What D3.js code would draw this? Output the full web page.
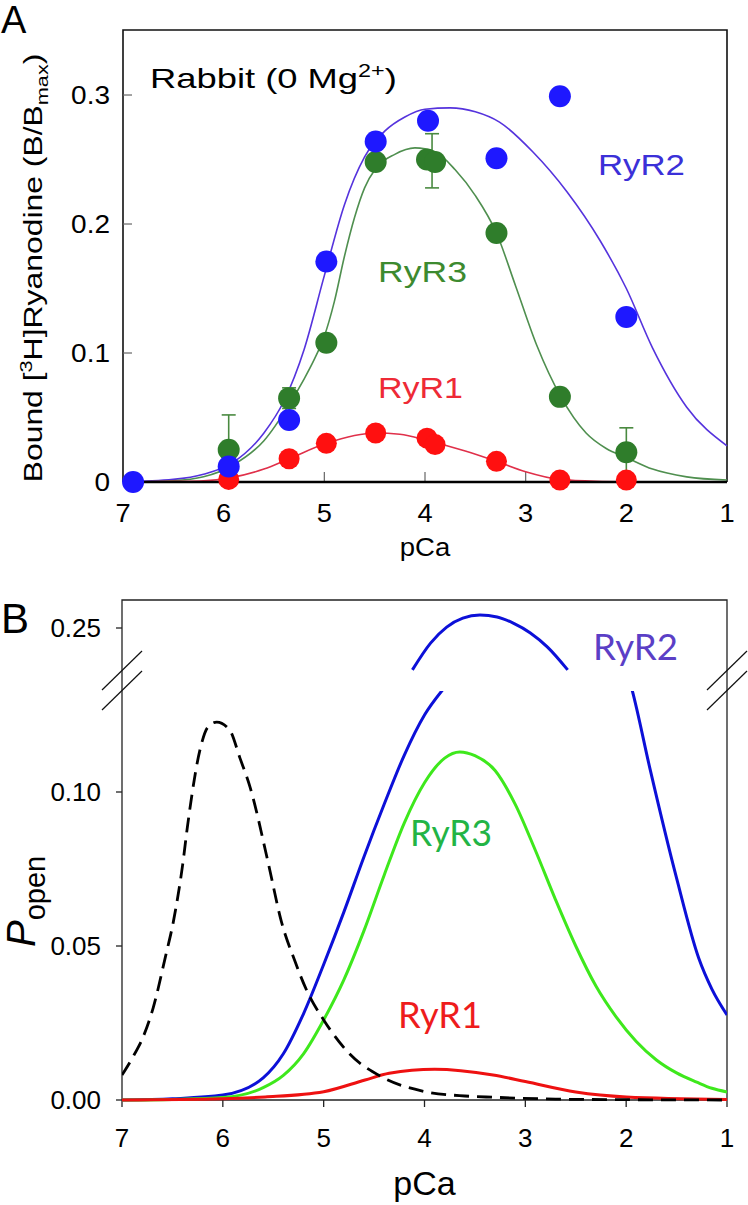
<!DOCTYPE html>
<html><head><meta charset="utf-8">
<script src="https://cdn.jsdelivr.net/npm/d3@7"></script>
<style>body{margin:0;background:#fff}svg{display:block}</style>
</head><body>
<svg id="c" width="748" height="1205"></svg>
<script>
// ---------------- DATA ----------------
const xTicks = [7, 6, 5, 4, 3, 2, 1];
const aYTicks = [0, 0.1, 0.2, 0.3];
const aYTickLabels = ["0", "0.1", "0.2", "0.3"];
const bYTicksLow = [0, 0.05, 0.10];
const bYTicksLowLabels = ["0.00", "0.05", "0.10"];
const bYTicksHigh = [0.25];
const bYTicksHighLabels = ["0.25"];

// Panel A measured points [pCa, B/Bmax]
const ryr2Points = [[6.9,0],[5.95,0.012],[5.35,0.048],[4.98,0.171],[4.49,0.264],[3.97,0.280],[3.29,0.251],[2.66,0.299],[2.0,0.128]];
const ryr3Points = [[5.95,0.025],[5.35,0.065],[4.98,0.108],[4.49,0.248],[3.98,0.250],[3.90,0.248],[3.29,0.193],[2.66,0.066],[2.0,0.023]];
const ryr3Errors = [[5.95,0.025,0.027],[5.35,0.065,0.008],[4.49,0.248,0.004],[3.93,0.249,0.021],[2.0,0.023,0.019]];
const ryr1Points = [[5.95,0.002],[5.35,0.018],[4.98,0.030],[4.49,0.038],[3.98,0.034],[3.90,0.029],[3.29,0.016],[2.66,0.0015],[2.0,0.0015]];

// Panel A fitted curves
const ryr2Fit = [[7.0,0],[6.5,0.002],[6.2,0.006],[5.91,0.015],[5.6,0.038],[5.4,0.063],[5.2,0.103],[5.0,0.160],[4.8,0.215],[4.6,0.252],[4.4,0.272],[4.2,0.283],[4.0,0.289],[3.75,0.290],[3.5,0.287],[3.26,0.279],[2.93,0.256],[2.59,0.225],[2.26,0.187],[2.0,0.150],[1.74,0.104],[1.4,0.058],[1.0,0.028]];
const ryr3Fit = [[7.0,0],[6.5,0.001],[6.2,0.004],[5.91,0.013],[5.6,0.032],[5.35,0.060],[5.2,0.080],[5.1,0.095],[5.0,0.113],[4.9,0.140],[4.8,0.175],[4.7,0.205],[4.6,0.228],[4.49,0.243],[4.3,0.254],[4.1,0.259],[3.9,0.256],[3.7,0.242],[3.5,0.222],[3.29,0.193],[3.1,0.152],[2.89,0.106],[2.65,0.066],[2.4,0.038],[2.2,0.026],[2.0,0.019],[1.74,0.010],[1.4,0.004],[1.0,0.0015]];
const ryr1Fit = [[7.0,0],[6.5,0.0005],[6.2,0.001],[5.95,0.003],[5.6,0.010],[5.35,0.018],[4.98,0.030],[4.49,0.038],[4.25,0.037],[3.97,0.032],[3.6,0.024],[3.29,0.016],[3.0,0.008],[2.66,0.002],[2.3,0.0005],[2.0,0.0002],[1.0,0]];

// Panel B model curves [pCa, Popen]
const controlCurve = [[7.0,0.0081],[6.9,0.0135],[6.79,0.0205],[6.69,0.030],[6.57,0.0464],[6.49,0.058],[6.40,0.076],[6.35,0.089],[6.22,0.1146],[6.15,0.121],[6.06,0.1227],[5.93,0.120],[5.83,0.111],[5.73,0.1016],[5.55,0.077],[5.42,0.058],[5.29,0.0455],[5.16,0.035],[5.0,0.026],[4.75,0.0152],[4.43,0.0076],[4.02,0.0029],[3.6,0.0013],[3.32,0.0009],[2.7,0.0003],[2.0,0.0001],[1.0,0.0]];
const ryr2Low = [[7.0,0],[6.5,0.0004],[6.0,0.0016],[5.6,0.0072],[5.4,0.015],[5.2,0.028],[5.0,0.044],[4.8,0.061],[4.6,0.079],[4.4,0.096],[4.2,0.112],[4.0,0.125],[3.8,0.134],[3.7,0.138]];
const ryr2High = [[4.12,0.2364],[3.94,0.2451],[3.78,0.2503],[3.62,0.2532],[3.45,0.2542],[3.28,0.2536],[3.12,0.2516],[2.95,0.2484],[2.78,0.2438],[2.58,0.2364]];
const ryr2Right = [[2.1,0.150],[1.94,0.133],[1.76,0.107],[1.5,0.072],[1.28,0.046],[1.15,0.036],[1.0,0.0276]];
const ryr3Curve = [[7.0,0],[6.5,0.0002],[6.0,0.0008],[5.6,0.004],[5.4,0.008],[5.2,0.015],[5.0,0.026],[4.8,0.039],[4.6,0.055],[4.4,0.073],[4.2,0.090],[4.0,0.103],[3.8,0.111],[3.65,0.113],[3.5,0.1118],[3.3,0.107],[3.1,0.096],[2.9,0.081],[2.7,0.065],[2.5,0.050],[2.3,0.037],[2.1,0.027],[1.9,0.019],[1.7,0.013],[1.5,0.0088],[1.3,0.0058],[1.15,0.0038],[1.0,0.0026]];
const ryr1Curve = [[7.0,0],[6.0,0.0004],[5.58,0.001],[5.0,0.0027],[4.59,0.0065],[4.35,0.0087],[3.9,0.0100],[3.32,0.0081],[3.0,0.006],[2.5,0.0026],[2.0,0.001],[1.0,0.0002]];

// ---------------- HELPERS ----------------
const svg = d3.select("#c");
const SANS = "'Liberation Sans', Arial, Helvetica, sans-serif";
const CAL = "Lato, 'Open Sans', sans-serif";

function addText(parent, o) {
  const g = parent.append("g");
  const t = g.append("text")
    .attr("font-family", o.family || SANS)
    .attr("font-size", o.size)
    .attr("fill", o.fill || "#000")
    .attr("text-anchor", o.anchor || "start");
  if (o.italic) t.attr("font-style", "italic");
  (o.parts || [{ t: o.text }]).forEach(p => {
    const ts = t.append("tspan").text(p.t);
    if (p.size) ts.attr("font-size", p.size);
    if (p.dy) ts.attr("dy", p.dy);
    if (p.italic) ts.attr("font-style", "italic");
  });
  let sx = o.sx || 1;
  if (o.width) sx = o.width / t.node().getComputedTextLength();
  g.attr("transform", `translate(${o.x},${o.y}) rotate(${o.rotate || 0}) scale(${sx},1)`);
  return g;
}

// ---------------- PANEL A ----------------
const A = { left: 123, right: 727, top: 30, bottom: 482 };
const xA = d3.scaleLinear().domain([7, 1]).range([A.left, A.right]);
const yA = d3.scaleLinear().domain([0, 0.3504]).range([A.bottom, A.top]);
const gA = svg.append("g");

const lineA = d3.line().x(d => xA(d[0])).y(d => yA(d[1])).curve(d3.curveMonotoneX);

gA.append("path").attr("d", `M${A.left},${A.bottom}V${A.top}H${A.right}V${A.bottom}`)
  .attr("fill", "none").attr("stroke", "#111").attr("stroke-width", 1.6);

gA.append("g").selectAll("line").data(aYTicks.slice(1)).join("line")
  .attr("x1", A.left).attr("x2", A.left + 9).attr("y1", d => yA(d)).attr("y2", d => yA(d))
  .attr("stroke", "#666").attr("stroke-width", 1.2);
gA.append("g").selectAll("line").data(xTicks.slice(1, -1)).join("line")
  .attr("x1", d => xA(d)).attr("x2", d => xA(d)).attr("y1", A.bottom).attr("y2", A.bottom - 10)
  .attr("stroke", "#666").attr("stroke-width", 1.2);

gA.append("path").datum(ryr2Fit).attr("d", lineA).attr("fill", "none").attr("stroke", "#5533dd").attr("stroke-width", 1.6);
gA.append("path").datum(ryr3Fit).attr("d", lineA).attr("fill", "none").attr("stroke", "#4f8f4f").attr("stroke-width", 1.6);
gA.append("path").datum(ryr1Fit).attr("d", lineA).attr("fill", "none").attr("stroke", "#e0304a").attr("stroke-width", 1.6);

gA.append("line").attr("x1", A.left).attr("x2", A.right).attr("y1", A.bottom).attr("y2", A.bottom)
  .attr("stroke", "#000").attr("stroke-width", 2.6);

const eb = gA.append("g").attr("stroke", "#4a8a40").attr("stroke-width", 1.6);
ryr3Errors.forEach(([p, v, e]) => {
  const x = xA(p);
  eb.append("line").attr("x1", x).attr("x2", x).attr("y1", yA(v - e)).attr("y2", yA(v + e));
  eb.append("line").attr("x1", x - 7).attr("x2", x + 7).attr("y1", yA(v + e)).attr("y2", yA(v + e));
  eb.append("line").attr("x1", x - 7).attr("x2", x + 7).attr("y1", yA(v - e)).attr("y2", yA(v - e));
});

const R = 11;
gA.append("g").selectAll("circle").data(ryr3Points).join("circle")
  .attr("cx", d => xA(d[0])).attr("cy", d => yA(d[1])).attr("r", R).attr("fill", "#2f7d2b");
gA.append("g").selectAll("circle").data(ryr1Points).join("circle")
  .attr("cx", d => xA(d[0])).attr("cy", d => yA(d[1])).attr("r", R - 0.5).attr("fill", "#ff1010");
gA.append("g").selectAll("circle").data(ryr2Points).join("circle")
  .attr("cx", d => xA(d[0])).attr("cy", d => yA(d[1])).attr("r", R).attr("fill", "#1e18ff");

aYTicks.forEach((v, i) => addText(gA, { x: 110, y: yA(v) + 9, text: aYTickLabels[i], size: 25, anchor: "end", sx: 1.12 }));
xTicks.forEach(v => addText(gA, { x: xA(v), y: 522, text: String(v), size: 26, anchor: "middle", sx: 1.05 }));
addText(gA, { x: xA(4), y: 556, text: "pCa", size: 25, anchor: "middle", sx: 1.1 });

addText(gA, { x: 42, y: 268, rotate: -90, size: 25, anchor: "middle", width: 429,
  parts: [{ t: "Bound [" }, { t: "3", size: 17, dy: -10 }, { t: "H]Ryanodine (B/B", dy: 10 }, { t: "max", size: 17, dy: 6 }, { t: ")", dy: -6 }] });

addText(gA, { x: 150, y: 88, size: 28, width: 247,
  parts: [{ t: "Rabbit (0 Mg" }, { t: "2+", size: 18, dy: -11 }, { t: ")", dy: 11 }] });
addText(gA, { x: 598, y: 175, text: "RyR2", size: 30, fill: "#3b30d8", width: 87 });
addText(gA, { x: 378, y: 282, text: "RyR3", size: 30, fill: "#3d8a2f", width: 89 });
addText(gA, { x: 378, y: 398, text: "RyR1", size: 30, fill: "#ee2a36", width: 85 });

addText(svg, { x: 1, y: 33, text: "A", size: 38 });

// ---------------- PANEL B ----------------
const B = { left: 122, right: 727, top: 600, bottom: 1100, breakY: 691 };
const xB = d3.scaleLinear().domain([7, 1]).range([B.left, B.right]);
const yBlow = d3.scaleLinear().domain([0, 0.10]).range([B.bottom, 792]);
const yBhigh = d3.scaleLinear().domain([0.25, 0.2591]).range([628, B.top]);
const gB = svg.append("g");

gB.append("defs").append("clipPath").attr("id", "clipLow").append("rect")
  .attr("x", B.left).attr("y", B.breakY).attr("width", B.right - B.left).attr("height", B.bottom - B.breakY + 10);

gB.append("path").attr("d", `M${B.left},${B.bottom}V${B.top}H${B.right}V${B.bottom}`)
  .attr("fill", "none").attr("stroke", "#222").attr("stroke-width", 1.3);
gB.append("line").attr("x1", B.left).attr("x2", B.right).attr("y1", B.bottom).attr("y2", B.bottom)
  .attr("stroke", "#222").attr("stroke-width", 1.3);

const tickB = gB.append("g").attr("stroke", "#222").attr("stroke-width", 1.3);
bYTicksLow.forEach(v => tickB.append("line").attr("x1", B.left - 6).attr("x2", B.left).attr("y1", yBlow(v)).attr("y2", yBlow(v)));
bYTicksHigh.forEach(v => tickB.append("line").attr("x1", B.left - 6).attr("x2", B.left).attr("y1", yBhigh(v)).attr("y2", yBhigh(v)));
xTicks.forEach(v => tickB.append("line").attr("x1", xB(v)).attr("x2", xB(v)).attr("y1", B.bottom).attr("y2", B.bottom + 7));

const brk = gB.append("g").attr("stroke", "#111").attr("stroke-width", 1.2);
[B.left, B.right].forEach(bx => {
  [0, 20].forEach(off => brk.append("line")
    .attr("x1", bx - 20).attr("y1", 690 + off).attr("x2", bx + 20).attr("y2", 651 + off));
});

const lineLow = d3.line().x(d => xB(d[0])).y(d => yBlow(d[1])).curve(d3.curveMonotoneX);
const lineHigh = d3.line().x(d => xB(d[0])).y(d => yBhigh(d[1])).curve(d3.curveMonotoneX);
const cl = gB.append("g").attr("clip-path", "url(#clipLow)");

cl.append("path").datum(ryr2Low).attr("d", lineLow).attr("fill", "none").attr("stroke", "#0c10d8").attr("stroke-width", 3);
cl.append("path").datum(ryr2Right).attr("d", lineLow).attr("fill", "none").attr("stroke", "#0c10d8").attr("stroke-width", 3);
cl.append("path").datum(ryr3Curve).attr("d", lineLow).attr("fill", "none").attr("stroke", "#3ee81c").attr("stroke-width", 3);
cl.append("path").datum(ryr1Curve).attr("d", lineLow).attr("fill", "none").attr("stroke", "#ee1111").attr("stroke-width", 3);
cl.append("path").datum(controlCurve).attr("d", lineLow).attr("fill", "none").attr("stroke", "#000").attr("stroke-width", 2.8).attr("stroke-dasharray", "15,8");
gB.append("path").datum(ryr2High).attr("d", lineHigh).attr("fill", "none").attr("stroke", "#0c10d8").attr("stroke-width", 3);

bYTicksLow.forEach((v, i) => addText(gB, { x: 101, y: yBlow(v) + 9, text: bYTicksLowLabels[i], size: 26, anchor: "end" }));
bYTicksHigh.forEach((v, i) => addText(gB, { x: 101, y: yBhigh(v) + 9, text: bYTicksHighLabels[i], size: 26, anchor: "end" }));
xTicks.forEach(v => addText(gB, { x: xB(v), y: 1147, text: String(v), size: 26, anchor: "middle" }));
addText(gB, { x: xB(4), y: 1195, text: "pCa", size: 34, anchor: "middle" });

addText(gB, { x: 35, y: 947, rotate: -90, size: 40, anchor: "start",
  parts: [{ t: "P", italic: true }, { t: "open", size: 29, dy: 10 }] });

addText(gB, { x: 593, y: 660, text: "RyR2", size: 37, family: CAL, fill: "#5b3fc6", width: 85 });
addText(gB, { x: 410, y: 846, text: "RyR3", size: 37, family: CAL, fill: "#22b445", width: 82 });
addText(gB, { x: 398, y: 1028, text: "RyR1", size: 37, family: CAL, fill: "#ee1c1c", width: 84 });

addText(svg, { x: 1, y: 633, text: "B", size: 42 });
</script>
</body></html>
